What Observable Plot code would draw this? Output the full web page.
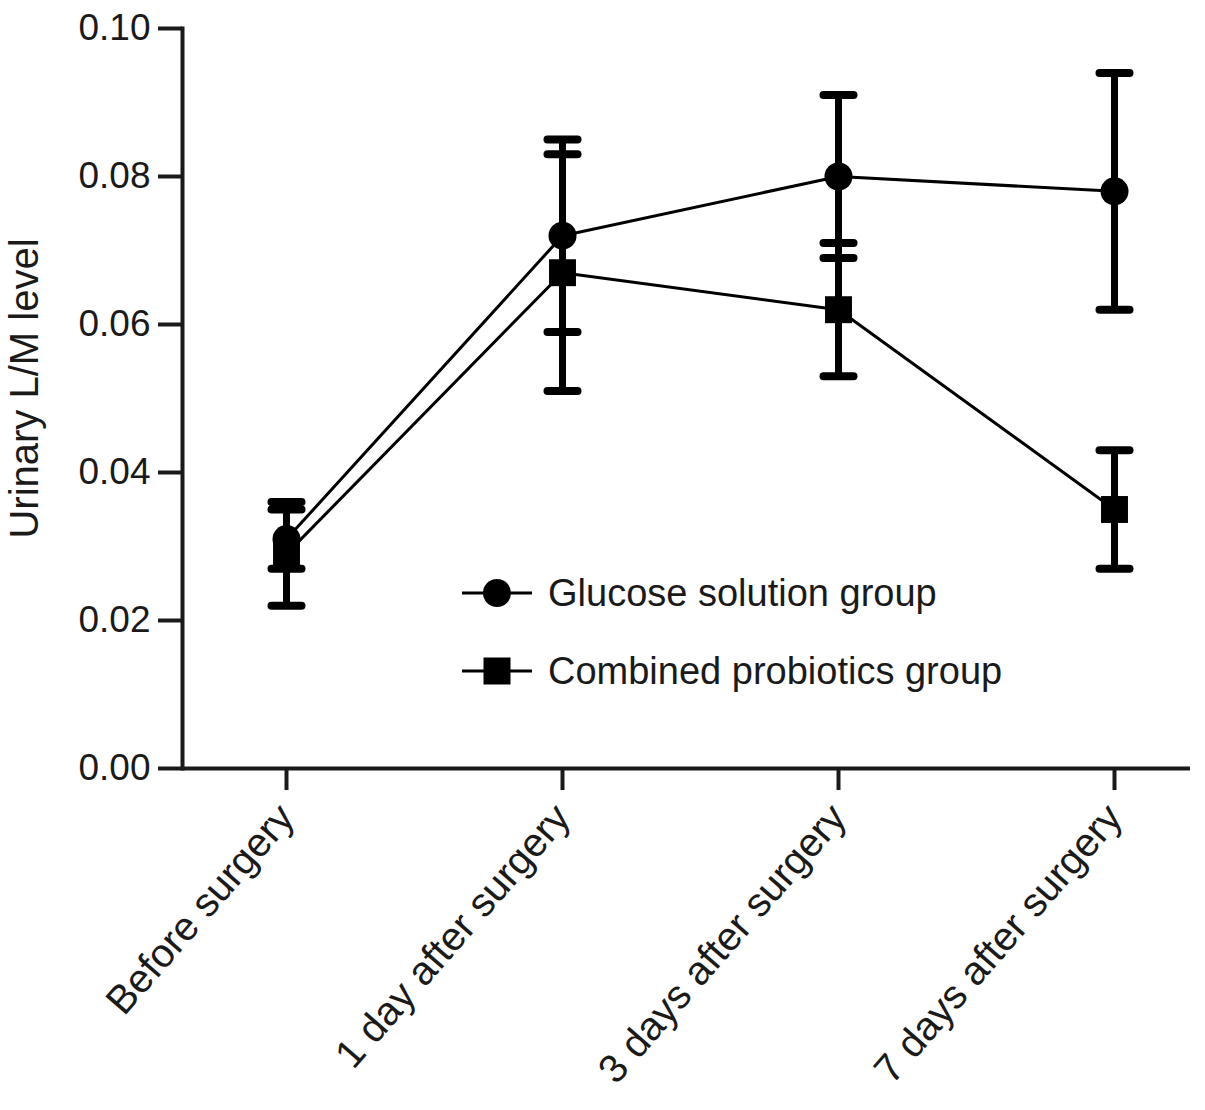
<!DOCTYPE html>
<html>
<head>
<meta charset="utf-8">
<script src="https://cdn.jsdelivr.net/npm/d3@7"></script>
<script src="https://cdn.jsdelivr.net/npm/@observablehq/plot@0.6"></script>
<style>
  body { margin: 0; background: #fff; }
  #wrap { position: relative; width: 1205px; height: 1110px; font-family: "Liberation Sans", Arial, sans-serif; color: #1a1a1a; }
  #legend { position: absolute; left: 462px; top: 569px; font-size: 38px; }
  .row { display: flex; align-items: center; height: 48px; margin-bottom: 30px; }
  .row svg { margin-right: 16px; }
</style>
</head>
<body>
<div id="wrap"></div>
<script>
const categories = ["Before surgery", "1 day after surgery", "3 days after surgery", "7 days after surgery"];
const groups = ["Glucose solution group", "Combined probiotics group"];
const glucoseMean = [0.031, 0.072, 0.080, 0.078];
const glucoseLow  = [0.027, 0.059, 0.069, 0.062];
const glucoseHigh = [0.035, 0.085, 0.091, 0.094];
const probioticMean = [0.029, 0.067, 0.062, 0.035];
const probioticLow  = [0.022, 0.051, 0.053, 0.027];
const probioticHigh = [0.036, 0.083, 0.071, 0.043];
const yTicks = [0, 0.02, 0.04, 0.06, 0.08, 0.10];
const yLabel = "Urinary L/M level";

const rows = [];
categories.forEach((c, i) => {
  rows.push({cat: c, group: groups[0], mean: glucoseMean[i], lo: glucoseLow[i], hi: glucoseHigh[i]});
  rows.push({cat: c, group: groups[1], mean: probioticMean[i], lo: probioticLow[i], hi: probioticHigh[i]});
});
const caps = rows.flatMap(d => [{cat: d.cat, v: d.lo}, {cat: d.cat, v: d.hi}]);

// horizontal error-bar cap symbol
const capSymbol = {draw(context) { context.moveTo(-15, 0); context.lineTo(15, 0); }};

const chart = Plot.plot({
  width: 1205,
  height: 1110,
  marginLeft: 182,
  marginRight: 15,
  marginTop: 28,
  marginBottom: 342,
  style: {fontFamily: "'Liberation Sans', Arial, sans-serif", color: "#1a1a1a", background: "#fff"},
  x: {type: "point", domain: categories, padding: 0.324, align: 0.58},
  y: {domain: [0, 0.10]},
  marks: [
    Plot.axisY({ticks: yTicks, tickFormat: d3.format(".2f"), tickSize: 24, tickPadding: 8, fontSize: 37, strokeWidth: 4, label: null}),
    Plot.text([yLabel], {frameAnchor: "left", textAnchor: "middle", rotate: -90, dx: -157, dy: -10, fontSize: 40, fill: "#1a1a1a"}),
    Plot.axisX({tickRotate: -49, tickSize: 22, tickPadding: 20, fontSize: 40, strokeWidth: 4, label: null}),
    Plot.frame({anchor: "left", strokeWidth: 4}),
    Plot.ruleY([0], {strokeWidth: 4}),
    Plot.line(rows, {x: "cat", y: "mean", z: "group", stroke: "black", strokeWidth: 3}),
    Plot.ruleX(rows, {x: "cat", y1: "lo", y2: "hi", stroke: "black", strokeWidth: 7}),
    Plot.dot(caps, {x: "cat", y: "v", symbol: capSymbol, stroke: "black", fill: "none", strokeWidth: 8, strokeLinecap: "round"}),
    Plot.dot(rows.filter(d => d.group === groups[0]), {x: "cat", y: "mean", symbol: "circle", r: 14, fill: "black", stroke: "none"}),
    Plot.dot(rows.filter(d => d.group === groups[1]), {x: "cat", y: "mean", symbol: "square", r: 15.2, fill: "black", stroke: "none"})
  ]
});
const wrap = document.getElementById("wrap");
wrap.appendChild(chart);

const legend = document.createElement("div");
legend.id = "legend";
const markerSvg = (kind) => {
  const shape = kind === "circle"
    ? '<circle cx="35" cy="24" r="14" fill="black"/>'
    : '<rect x="21.5" y="10.5" width="27" height="27" fill="black"/>';
  return `<svg width="70" height="48"><line x1="0" y1="24" x2="70" y2="24" stroke="black" stroke-width="3"/>${shape}</svg>`;
};
legend.innerHTML = groups.map((g, i) =>
  `<div class="row">${markerSvg(i === 0 ? "circle" : "square")}<span>${g}</span></div>`).join("");
wrap.appendChild(legend);
</script>
</body>
</html>
